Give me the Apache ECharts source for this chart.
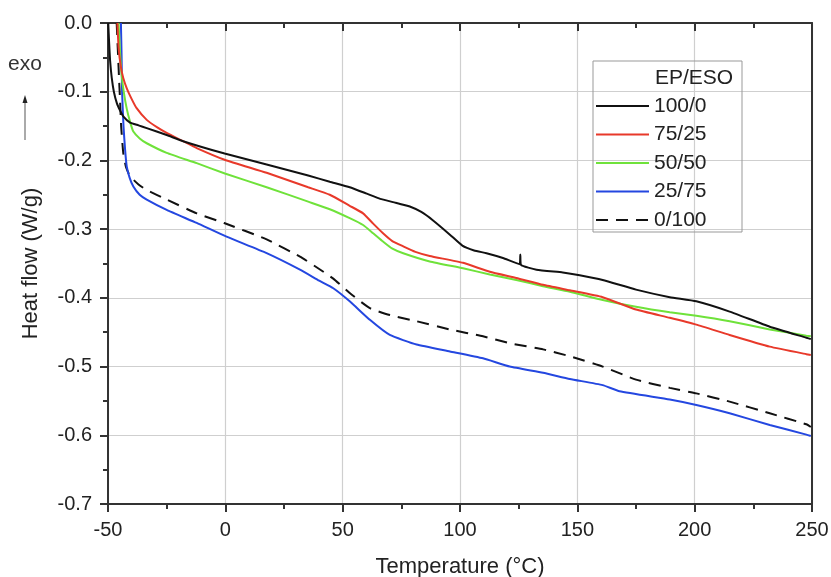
<!DOCTYPE html>
<html>
<head>
<meta charset="utf-8">
<script src="https://cdn.jsdelivr.net/npm/echarts@6/dist/echarts.min.js"></script>
<style>
html,body{margin:0;padding:0;background:#fff;}
#chart{width:831px;height:577px;}
</style>
</head>
<body>
<div id="chart"></div>
<script>
// Series names (legend)
var seriesNames = ['100/0', '75/25', '50/50', '25/75', '0/100'];

// 100/0 (black)
var temp100 = [-49.9,-49.5,-49.1,-48.4,-47.5,-46.2,-44.9,-43.5,-40.6,-37,-33.5,-25,-18,-0.3,17.6,35.3,44.5,53,60,66,72,78.6,83.5,88.4,95.7,101,106,111.3,118.3,125.4,125.7,126.0,132.6,143.8,151,160.8,175,189.4,200.7,214.9,232,247.6,249.5];
var flow100 = [0,-0.03,-0.055,-0.08,-0.1,-0.117,-0.127,-0.136,-0.145,-0.149,-0.153,-0.163,-0.172,-0.19,-0.206,-0.222,-0.231,-0.239,-0.248,-0.256,-0.261,-0.267,-0.275,-0.287,-0.308,-0.324,-0.331,-0.335,-0.342,-0.351,-0.337,-0.352,-0.359,-0.363,-0.367,-0.374,-0.388,-0.399,-0.405,-0.42,-0.442,-0.458,-0.46];

// 75/25 (red)
var temp75 = [-46,-45.5,-44.6,-43.5,-42,-40,-37.8,-33.5,-29,-25,-18,-12.2,-0.3,17.6,35.3,44.5,53,58.7,63,67.2,71,75.8,81,87.1,101.3,112.7,124,135.4,146.8,160.8,175,189.4,200.7,214.9,232,247.6,249.5];
var flow75 = [0,-0.035,-0.062,-0.08,-0.095,-0.11,-0.124,-0.141,-0.152,-0.16,-0.172,-0.182,-0.199,-0.218,-0.239,-0.25,-0.266,-0.277,-0.292,-0.306,-0.317,-0.325,-0.333,-0.339,-0.349,-0.362,-0.371,-0.381,-0.389,-0.399,-0.417,-0.429,-0.439,-0.454,-0.471,-0.482,-0.483];

// 50/50 (green)
var temp50 = [-45.5,-44.9,-44.2,-43.3,-42,-40.5,-39.2,-36.5,-33.5,-25,-12.2,-0.2,17.6,35.3,44.5,53,58.7,63,67.2,71,75.8,87.1,101.3,112.7,124,135.4,146.8,160.8,175,189.4,200.7,214.9,232,247.6,249.5];
var flow50 = [0,-0.04,-0.075,-0.1,-0.125,-0.145,-0.158,-0.168,-0.175,-0.189,-0.204,-0.219,-0.239,-0.26,-0.271,-0.284,-0.294,-0.306,-0.318,-0.328,-0.335,-0.347,-0.357,-0.366,-0.374,-0.383,-0.391,-0.403,-0.413,-0.421,-0.426,-0.434,-0.446,-0.455,-0.456];

// 25/75 (blue)
var temp25 = [-44.5,-44.2,-44,-43.4,-42.7,-42,-40.8,-39.2,-36.5,-33.5,-25,-12.2,0.5,17.6,31.8,40,46,53,61.6,70.1,81.5,95.7,109.8,121.2,135.4,146.8,160.8,168,189.4,200.7,214.9,232,247.6,249.5];
var flow25 = [0,-0.05,-0.1,-0.15,-0.185,-0.209,-0.225,-0.238,-0.25,-0.257,-0.272,-0.291,-0.311,-0.335,-0.359,-0.375,-0.386,-0.405,-0.432,-0.454,-0.468,-0.478,-0.488,-0.5,-0.509,-0.518,-0.527,-0.536,-0.548,-0.556,-0.568,-0.585,-0.599,-0.601];

// 0/100 (dashed)
var temp0 = [-46.3,-45.8,-45.3,-44.9,-44.4,-43.5,-42.3,-40.6,-37,-33.5,-25,-12.2,-0.5,17.6,31.8,40,46,53,61.6,70.1,81.5,95.7,109.8,121.2,135.4,146.8,160.8,175,189.4,200.7,214.9,232,247.6,249.5];
var flow0 = [0,-0.04,-0.08,-0.11,-0.15,-0.189,-0.21,-0.223,-0.235,-0.243,-0.257,-0.277,-0.291,-0.315,-0.34,-0.358,-0.372,-0.393,-0.415,-0.425,-0.434,-0.446,-0.456,-0.466,-0.475,-0.485,-0.5,-0.519,-0.531,-0.539,-0.551,-0.568,-0.584,-0.588];

// Axis ranges / ticks
var xMin = -50, xMax = 250, xStep = 50;
var yMin = -0.7, yMax = 0, yStep = 0.1;

function pairs(xs, ys){ return xs.map(function(x,i){ return [x, ys[i]]; }); }

var temps = [temp100, temp75, temp50, temp25, temp0];
var flows = [flow100, flow75, flow50, flow25, flow0];
var colors = ['#111111', '#e8392a', '#6fe23a', '#2447e0', '#111111'];

var FONT = 'Liberation Sans, Arial, sans-serif';

var series = seriesNames.map(function(name, i){
  return {
    name: name,
    type: 'line',
    data: pairs(temps[i], flows[i]),
    showSymbol: false,
    symbol: 'none',
    smooth: 0.15,
    clip: true,
    lineStyle: { color: colors[i], width: 2, type: i === 4 ? [12, 8] : 'solid' },
    itemStyle: { color: colors[i] },
    z: 10 - i
  };
});

var chart = echarts.init(document.getElementById('chart'), null, {renderer: 'canvas'});
chart.setOption({
  backgroundColor: '#ffffff',
  animation: false,
  grid: { left: 108, right: 19, top: 23, bottom: 73, containLabel: false, outerBoundsMode: 'none' },
  xAxis: [{
    type: 'value', min: xMin, max: xMax, interval: xStep,
    name: 'Temperature (°C)', nameLocation: 'middle', nameGap: 52,
    nameTextStyle: { fontFamily: FONT, fontSize: 22, color: '#222' },
    axisLine: { show: true, onZero: false, lineStyle: { color: '#333', width: 2 } },
    axisTick: { show: true, inside: false, length: 8, lineStyle: { color: '#333', width: 2 } },
    minorTick: { show: true, splitNumber: 2, length: 5, lineStyle: { color: '#333', width: 2 } },
    axisLabel: { fontFamily: FONT, fontSize: 20, color: '#222', margin: 16 },
    splitLine: { show: true, lineStyle: { color: '#cfcfcf', width: 1.2 } }
  }, {
    type: 'value', min: xMin, max: xMax, interval: xStep, position: 'top',
    axisLine: { show: true, onZero: false, lineStyle: { color: '#333', width: 2 } },
    axisTick: { show: true, inside: true, length: 8, lineStyle: { color: '#333', width: 2 } },
    minorTick: { show: true, splitNumber: 2, length: 5, lineStyle: { color: '#333', width: 2 } },
    axisLabel: { show: false },
    splitLine: { show: false }
  }],
  yAxis: [{
    type: 'value', min: yMin, max: yMax, interval: yStep,
    name: 'Heat flow (W/g)', nameLocation: 'middle', nameGap: 66, nameRotate: 90,
    nameTextStyle: { fontFamily: FONT, fontSize: 22, color: '#222' },
    axisLine: { show: true, onZero: false, lineStyle: { color: '#333', width: 2 } },
    axisTick: { show: true, inside: false, length: 8, lineStyle: { color: '#333', width: 2 } },
    minorTick: { show: true, splitNumber: 2, length: 5, lineStyle: { color: '#333', width: 2 } },
    axisLabel: { fontFamily: FONT, fontSize: 20, color: '#222', margin: 16,
      formatter: function(v){ return (Math.abs(v) < 1e-9 ? 0 : v).toFixed(1); } },
    splitLine: { show: true, lineStyle: { color: '#cfcfcf', width: 1.2 } }
  }, {
    type: 'value', min: yMin, max: yMax, interval: yStep, position: 'right',
    axisLine: { show: true, onZero: false, lineStyle: { color: '#333', width: 2 } },
    axisTick: { show: false }, axisLabel: { show: false }, splitLine: { show: false }
  }],
  legend: {
    show: true,
    orient: 'vertical',
    left: 595, top: 95,
    padding: 0,
    itemWidth: 53, itemHeight: 14, itemGap: 6.5,
    data: seriesNames,
    itemStyle: { opacity: 0 },
    textStyle: { fontFamily: FONT, fontSize: 21, color: '#222', lineHeight: 22 },
    selectedMode: false
  },
  graphic: [
    { type: 'rect', shape: { x: 593, y: 61, width: 149, height: 171 },
      style: { fill: 'rgba(255,255,255,0)', stroke: '#999', lineWidth: 1 }, z: 5 },
    { type: 'text', left: 655, top: 68, style: { text: 'EP/ESO', font: '21px ' + FONT, fill: '#222' }, z: 6 },
    { type: 'text', left: 8, top: 54, style: { text: 'exo', font: '21px ' + FONT, fill: '#333' } },
    { type: 'line', shape: { x1: 25, y1: 100, x2: 25, y2: 140 }, style: { stroke: '#aaa', lineWidth: 2 } },
    { type: 'polygon', shape: { points: [[25, 95], [22.5, 103], [27.5, 103]] }, style: { fill: '#222' } }
  ],
  series: series
});
</script>
</body>
</html>
